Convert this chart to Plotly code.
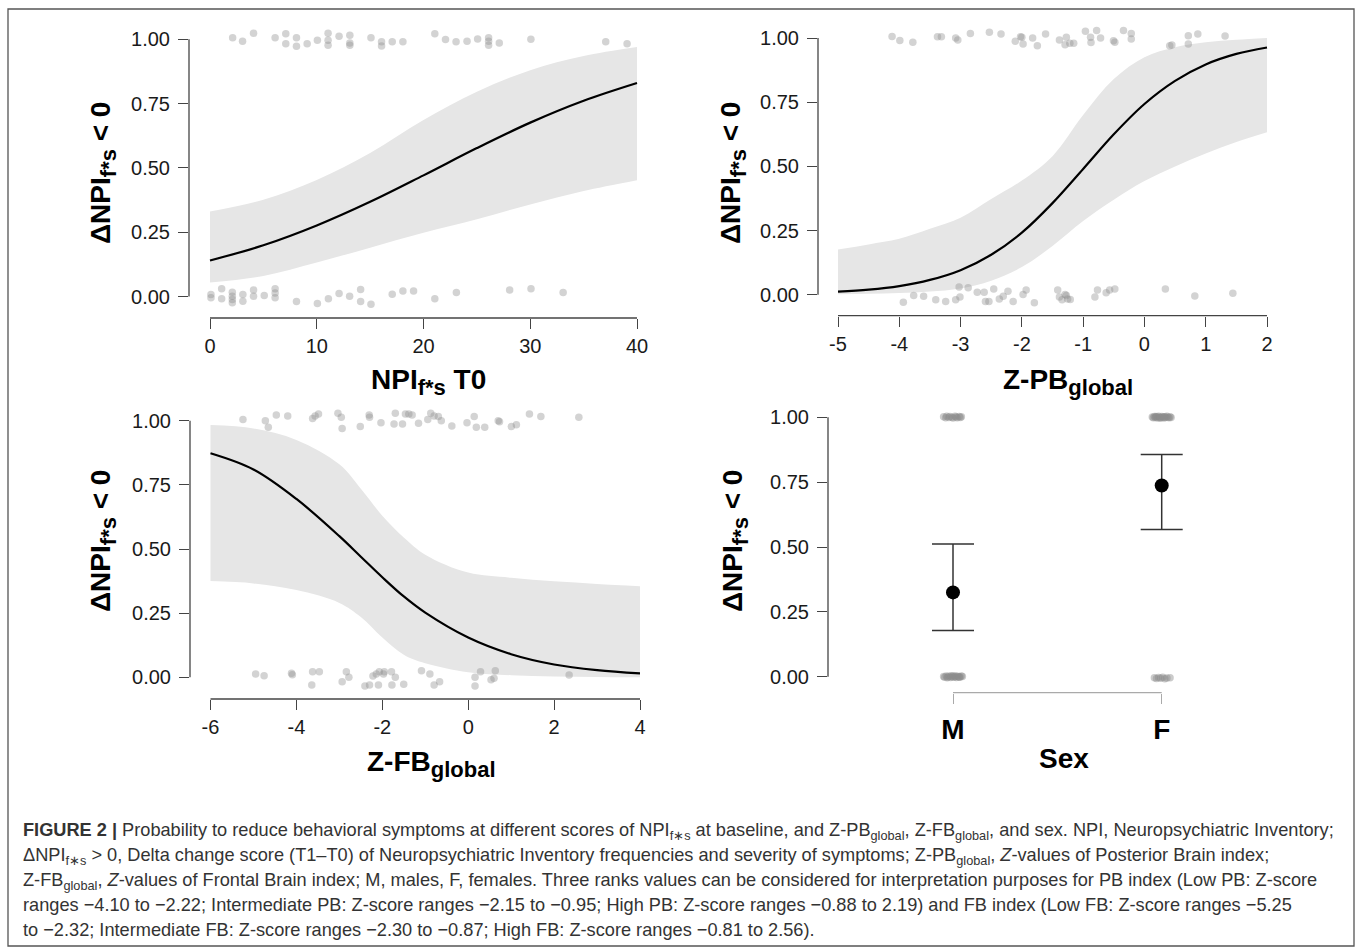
import plotly.graph_objects as go

W, H = 1357, 949

# ---------------- data ----------------
# Panel A: NPI f*s T0
npi_x = [0, 5, 10, 15, 20, 25, 30, 35, 40]
npi_fit = [0.14, 0.199, 0.276, 0.368, 0.471, 0.577, 0.676, 0.761, 0.83]
npi_up = [0.33, 0.376, 0.453, 0.558, 0.686, 0.796, 0.88, 0.935, 0.97]
npi_lo = [0.054, 0.08, 0.132, 0.19, 0.248, 0.3, 0.358, 0.41, 0.452]
npi_pts_x = [2.12, 3.05, 4.08, 6.1, 7.1, 7.1, 8.1, 8.1, 9.1, 10.06, 11.06, 11.06, 11.06, 12.09,
             13.1, 13.1, 13.1, 15.08, 16.07, 16.07, 17.07, 18.07, 21.06, 22.06, 23.05, 24.08,
             25.07, 26.1, 26.1, 26.1, 27.1, 30.06, 37.07, 39.07,
             0.09, 0.09, 1.09, 1.09, 2.09, 2.09, 2.09, 2.09, 3.08, 3.08, 4.08, 4.08, 5.08,
             6.1, 6.1, 6.1, 8.1, 10.06, 11.09, 12.09, 13.08, 14.11, 14.11, 15.08, 17.07,
             18.07, 19.07, 21.06, 23.08, 28.07, 30.07, 33.08]
npi_pts_y = [1.006, 0.992, 1.024, 1.006, 1.022, 0.983, 1.006, 0.973, 0.983, 0.996, 1.024, 0.996,
             0.977, 1.012, 1.016, 0.986, 0.977, 1.006, 0.99, 0.974, 0.99, 0.99, 1.022, 0.999,
             0.99, 0.992, 1.001, 1.006, 0.992, 0.977, 0.986, 1.0, 0.99, 0.983,
             0.008, -0.005, 0.03, -0.009, 0.017, 0.001, -0.012, -0.024, 0.008, -0.018, 0.025,
             0.001, 0.004, 0.03, 0.014, -0.005, -0.019, -0.027, -0.009, 0.012, 0.001, 0.027,
             -0.019, -0.03, 0.009, 0.021, 0.021, -0.009, 0.016, 0.025, 0.03, 0.016]

# Panel B: Z-PB global
pb_x = [-5, -4.5, -4, -3.5, -3, -2.5, -2, -1.5, -1, -0.5, 0, 0.5, 1, 1.5, 2]
pb_fit = [0.012, 0.02, 0.034, 0.058, 0.096, 0.156, 0.242, 0.357, 0.49, 0.625, 0.743, 0.833,
          0.897, 0.938, 0.963]
pb_up = [0.176, 0.196, 0.218, 0.257, 0.30, 0.373, 0.445, 0.54, 0.70, 0.84, 0.925, 0.964,
         0.983, 0.993, 1.0]
pb_lo = [0.002, 0.004, 0.007, 0.013, 0.025, 0.055, 0.108, 0.19, 0.287, 0.37, 0.443, 0.50,
         0.55, 0.595, 0.633]
pb_pts_x = [-4.118, -3.991, -3.779, -3.377, -3.313, -3.08, -3.045, -2.84, -2.53, -2.34, -2.107,
            -2.022, -2.0, -1.98, -1.824, -1.747, -1.613, -1.387, -1.295, -1.274, -1.217, -1.154,
            -0.963, -0.879, -0.872, -0.78, -0.716, -0.505, -0.483, -0.342, -0.215, -0.215,
            0.413, 0.448, 0.716, 0.716, 0.871, 1.316,
            -3.934, -3.765, -3.603, -3.405, -3.243, -3.08, -3.024, -3.01, -2.876, -2.728,
            -2.615, -2.594, -2.537, -2.459, -2.368, -2.304, -2.227, -2.142, -1.98, -1.93,
            -1.796, -1.415, -1.387, -1.344, -1.295, -1.274, -1.253, -1.21, -0.808, -0.766,
            -0.625, -0.568, -0.483, 0.342, 0.822, 1.443]
pb_pts_y = [1.006, 0.99, 0.983, 1.005, 1.005, 1.0, 0.992, 1.018, 1.022, 1.016, 0.987, 1.005,
            1.003, 0.977, 1.0, 0.97, 1.016, 0.992, 0.974, 1.003, 0.98, 0.98, 1.026, 1.003,
            0.982, 1.029, 1.0, 0.989, 0.983, 1.029, 1.018, 0.996, 0.97, 0.973, 1.009, 0.977,
            1.016, 1.008,
            -0.029, -0.003, -0.006, -0.019, -0.026, -0.019, 0.03, -0.009, 0.027, 0.01, 0.01,
            -0.026, -0.026, 0.023, -0.016, -0.006, 0.014, -0.026, 0.001, 0.019, -0.031, 0.019,
            -0.009, -0.019, 0.001, -0.003, -0.016, -0.018, -0.009, 0.019, 0.008, 0.019, 0.023,
            0.023, -0.005, 0.006]

# Panel C: Z-FB global
fb_x = [-6, -5, -4, -3, -2.5, -2, -1.5, -1, 0, 1, 2, 3, 4]
fb_fit = [0.873, 0.81, 0.695, 0.55, 0.47, 0.39, 0.315, 0.252, 0.155, 0.09, 0.05, 0.028, 0.015]
fb_up = [0.983, 0.97, 0.925, 0.83, 0.735, 0.63, 0.545, 0.478, 0.408, 0.388, 0.374, 0.364, 0.355]
fb_lo = [0.375, 0.366, 0.34, 0.29, 0.235, 0.155, 0.088, 0.055, 0.02, 0.008, 0.003, 0.001, 0.0]
fb_pts_x = [-5.244, -4.723, -4.654, -4.468, -4.202, -3.623, -3.564, -3.485, -3.033, -2.955,
            -2.935, -2.513, -2.306, -2.297, -2.031, -1.727, -1.697, -1.53, -1.462, -1.383,
            -1.305, -1.157, -0.941, -0.872, -0.794, -0.695, -0.627, -0.381, -0.028, 0.14,
            0.189, 0.385, 0.699, 0.729, 1.004, 1.122, 1.426, 1.692, 2.576,
            -4.949, -4.752, -4.114, -4.094, -3.642, -3.623, -3.466, -2.935, -2.837, -2.778,
            -2.405, -2.297, -2.218, -2.14, -2.09, -2.071, -1.972, -1.953, -1.786, -1.776,
            -1.697, -1.501, -1.088, -0.892, -0.794, -0.666, 0.159, 0.159, 0.287, 0.532, 0.601,
            0.631, 2.35]
fb_pts_y = [1.005, 1.0, 0.974, 1.022, 1.018, 1.009, 1.018, 1.026, 1.029, 1.013, 0.97, 0.977,
            1.022, 1.013, 0.992, 0.987, 1.029, 0.987, 1.026, 1.026, 1.022, 0.99, 1.005, 1.029,
            1.018, 1.016, 1.0, 0.979, 0.992, 1.016, 0.974, 0.974, 1.0, 0.996, 0.977, 0.984,
            1.026, 1.016, 1.013,
            0.013, 0.006, 0.016, 0.01, -0.03, 0.022, 0.022, -0.017, 0.022, 0.0, -0.034, -0.03,
            0.005, 0.013, -0.03, 0.022, 0.013, 0.022, 0.022, -0.03, 0.0, -0.027, 0.026, 0.013,
            -0.03, -0.017, -0.034, 0.0, 0.022, -0.01, -0.004, 0.026, 0.009]

# Panel D: Sex
sex_labels = ["M", "F"]
sex_est = [0.325, 0.737]
sex_lo = [0.178, 0.567]
sex_hi = [0.512, 0.857]
sex_pts_x = [-0.045, -0.035, -0.03, -0.02, -0.015, -0.005, 0.0, 0.01, 0.015, 0.02, 0.03, 0.035, 0.04,
             -0.045, -0.04, -0.032, -0.025, -0.02, -0.012, -0.006, 0.0, 0.004, 0.01, 0.016, 0.022,
             0.028, 0.034, 0.04, 0.045, -0.028, -0.008, 0.012, 0.03,
             0.955, 0.96, 0.965, 0.97, 0.975, 0.98, 0.985, 0.99, 0.995, 1.0, 1.005, 1.01, 1.015,
             1.02, 1.025, 1.03, 1.035, 1.04, 1.045, 0.972, 0.992, 1.012,
             0.965, 0.975, 0.985, 0.995, 1.005, 1.015, 1.025, 1.04]
sex_pts_y = [1.002, 0.998, 1.004, 0.999, 1.003, 1.0, 0.997, 1.004, 1.001, 0.998, 1.003, 0.999, 1.002,
             0.001, -0.002, 0.003, -0.001, 0.002, -0.003, 0.0, 0.003, -0.002, 0.001, -0.003, 0.002,
             0.0, -0.001, 0.003, 0.001, -0.004, 0.004, 0.003, -0.002,
             1.001, 0.998, 1.003, 0.999, 1.002, 0.997, 1.004, 1.0, 0.998, 1.003, 1.001, 0.997,
             1.002, 0.999, 1.004, 1.0, 0.998, 1.002, 0.999, 1.003, 0.997, 1.001,
             -0.004, -0.007, -0.003, -0.006, -0.002, -0.008, -0.005, -0.004]

yticks = [0, 0.25, 0.5, 0.75, 1.0]
ytick_text = ["0.00", "0.25", "0.50", "0.75", "1.00"]
npi_ticks = [0, 10, 20, 30, 40]
pb_ticks = [-5, -4, -3, -2, -1, 0, 1, 2]
fb_ticks = [-6, -4, -2, 0, 2, 4]
sex_ticks = [0, 1]

# ---------------- layout helpers ----------------
FONT = "Liberation Sans, Arial, Helvetica, sans-serif"
PT_COLOR = "rgba(140,140,140,0.38)"
BAND = "#e6e6e6"


def xr(l, r, v0, p0, v1, p1):
    s = (p1 - p0) / (v1 - v0)
    return [v0 + (l - p0) / s, v0 + (r - p0) / s]


def yr(t, b, p0, p1):
    s = (p0 - p1)
    return [(p0 - b) / s, (p0 - t) / s]


panels = {
    1: dict(l=189, r=650, t=15, b=318, xv=(0, 210, 40, 637), y=(296.5, 39.3)),
    2: dict(l=818, r=1280, t=15, b=315.7, xv=(-5, 838, 2, 1267), y=(294.8, 38.0)),
    3: dict(l=190, r=650, t=400, b=699, xv=(-6, 210.5, 4, 640), y=(677.3, 420.7)),
    4: dict(l=828, r=1290, t=400, b=692.7, xv=(0, 953, 1, 1161.7), y=(676.7, 417.3)),
}
xticks_all = {1: npi_ticks, 2: pb_ticks, 3: fb_ticks, 4: sex_ticks}

fig = go.Figure()


def ax(n, name):
    return name if n == 1 else f"{name}{n}"


layout = dict(
    width=W, height=H, margin=dict(l=0, r=0, t=0, b=0),
    paper_bgcolor="white", plot_bgcolor="white", showlegend=False,
    font=dict(family=FONT, color="#1a1a1a"),
)
shapes = []
for n, p in panels.items():
    v0, p0, v1, p1 = p["xv"]
    xa = dict(
        domain=[p["l"] / W, p["r"] / W], range=xr(p["l"], p["r"], v0, p0, v1, p1),
        anchor=ax(n, "y"), showgrid=False, zeroline=False, showline=False,
        ticks="outside", ticklen=10, tickwidth=1.3, tickcolor="#444",
        tickvals=xticks_all[n], ticktext=[str(v) for v in xticks_all[n]],
        tickfont=dict(size=20, color="#1a1a1a", family=FONT),
        ticklabelstandoff=0, fixedrange=True,
    )
    if n == 4:
        xa.update(ticktext=["<b>" + s + "</b>" for s in sex_labels],
                  tickfont=dict(size=28, color="black", family=FONT),
                  tickcolor="#aaa", ticklabelstandoff=2)
    ya = dict(
        domain=[1 - p["b"] / H, 1 - p["t"] / H], range=yr(p["t"], p["b"], *p["y"]),
        anchor=ax(n, "x"), showgrid=False, zeroline=False, showline=False,
        ticks="outside", ticklen=10, tickwidth=1.3, tickcolor="#444",
        tickvals=yticks, ticktext=ytick_text,
        tickfont=dict(size=20, color="#1a1a1a", family=FONT),
        ticklabelstandoff=4, fixedrange=True,
    )
    layout["xaxis" if n == 1 else f"xaxis{n}"] = xa
    layout["yaxis" if n == 1 else f"yaxis{n}"] = ya
    # R-style axis lines spanning first..last tick
    shapes.append(dict(type="line", xref=f"{ax(n,'x')} domain", yref=ax(n, "y"),
                       x0=0, x1=0, y0=yticks[0], y1=yticks[-1],
                       line=dict(color="#444", width=1.3)))
    shapes.append(dict(type="line", xref=ax(n, "x"), yref=f"{ax(n,'y')} domain",
                       x0=xticks_all[n][0], x1=xticks_all[n][-1], y0=0, y1=0,
                       line=dict(color="#aaa" if n == 4 else "#444", width=1.3)))

# outer frame
shapes.append(dict(type="rect", xref="paper", yref="paper", x0=8 / W, x1=1354 / W,
                   y0=1 - 946 / H, y1=1 - 9 / H, line=dict(color="#555", width=1.3)))
layout["shapes"] = shapes


def band(n, x, up, lo, fit, px, py):
    xa, ya = ax(n, "x"), ax(n, "y")
    fig.add_trace(go.Scatter(x=x, y=up, mode="lines", line=dict(width=0, shape="spline"),
                             xaxis=xa, yaxis=ya, hoverinfo="skip"))
    fig.add_trace(go.Scatter(x=x, y=lo, mode="lines", line=dict(width=0, shape="spline"),
                             fill="tonexty", fillcolor=BAND, xaxis=xa, yaxis=ya, hoverinfo="skip"))
    fig.add_trace(go.Scatter(x=px, y=py, mode="markers",
                             marker=dict(size=7.5, color=PT_COLOR, line=dict(width=0)),
                             xaxis=xa, yaxis=ya))
    fig.add_trace(go.Scatter(x=x, y=fit, mode="lines",
                             line=dict(color="black", width=2.2, shape="spline"),
                             xaxis=xa, yaxis=ya))


band(1, npi_x, npi_up, npi_lo, npi_fit, npi_pts_x, npi_pts_y)
band(2, pb_x, pb_up, pb_lo, pb_fit, pb_pts_x, pb_pts_y)
band(3, fb_x, fb_up, fb_lo, fb_fit, fb_pts_x, fb_pts_y)

# Sex panel
fig.add_trace(go.Scatter(x=sex_pts_x, y=sex_pts_y, mode="markers",
                         marker=dict(size=7.5, color="rgba(140,140,140,0.45)", line=dict(width=0)),
                         xaxis="x4", yaxis="y4"))
fig.add_trace(go.Scatter(
    x=sex_ticks, y=sex_est, mode="markers",
    marker=dict(size=14, color="black"),
    error_y=dict(type="data", symmetric=False,
                 array=[h - e for h, e in zip(sex_hi, sex_est)],
                 arrayminus=[e - l for e, l in zip(sex_est, sex_lo)],
                 color="#333", thickness=1.5, width=21),
    xaxis="x4", yaxis="y4"))


# titles
def sub(t, size=22):
    return f'<sub><span style="font-size:{size}px">{t}</span></sub>'


ytitle = "<b>ΔNPI" + sub("f*s") + "&nbsp;&lt;&nbsp;0</b>"
TF = dict(family=FONT, size=28, color="black")


def P(xp, yp):
    return xp / W, 1 - yp / H


anns = []
for (xp, yp) in [(103, 173), (733, 173), (103, 541), (735, 541)]:
    x, y = P(xp, yp)
    anns.append(dict(text=ytitle, x=x, y=y, xref="paper", yref="paper", textangle=-90,
                     showarrow=False, font=TF, xanchor="center", yanchor="middle"))
for txt, xp, yp in [("<b>NPI" + sub("f*s") + " T0</b>", 428, 382),
                    ("<b>Z-PB" + sub("global") + "</b>", 1068, 382),
                    ("<b>Z-FB" + sub("global") + "</b>", 431, 764),
                    ("<b>Sex</b>", 1064, 758)]:
    x, y = P(xp, yp)
    anns.append(dict(text=txt, x=x, y=y, xref="paper", yref="paper", showarrow=False,
                     font=TF, xanchor="center", yanchor="middle"))

caption = [
    "<b>FIGURE 2 |</b> Probability to reduce behavioral symptoms at different scores of NPI<sub>f∗s</sub> at baseline, and Z-PB<sub>global</sub>, Z-FB<sub>global</sub>, and sex. NPI, Neuropsychiatric Inventory;",
    "ΔNPI<sub>f∗s</sub> &gt; 0, Delta change score (T1–T0) of Neuropsychiatric Inventory frequencies and severity of symptoms; Z-PB<sub>global</sub>, <i>Z</i>-values of Posterior Brain index;",
    "Z-FB<sub>global</sub>, <i>Z</i>-values of Frontal Brain index; M, males, F, females. Three ranks values can be considered for interpretation purposes for PB index (Low PB: Z-score",
    "ranges −4.10 to −2.22; Intermediate PB: Z-score ranges −2.15 to −0.95; High PB: Z-score ranges −0.88 to 2.19) and FB index (Low FB: Z-score ranges −5.25",
    "to −2.32; Intermediate FB: Z-score ranges −2.30 to −0.87; High FB: Z-score ranges −0.81 to 2.56).",
]
for i, line in enumerate(caption):
    x, y = P(21, 818 + i * 25)
    anns.append(dict(text=line, x=x, y=y, xref="paper", yref="paper", showarrow=False,
                     font=dict(family=FONT, size=18.2, color="#333"),
                     xanchor="left", yanchor="top", align="left"))
layout["annotations"] = anns

fig.update_layout(**layout)
fig.write_html("out.html", config={"displayModeBar": False},
               post_script="document.body.style.margin='0px';document.body.style.overflow='hidden';")
